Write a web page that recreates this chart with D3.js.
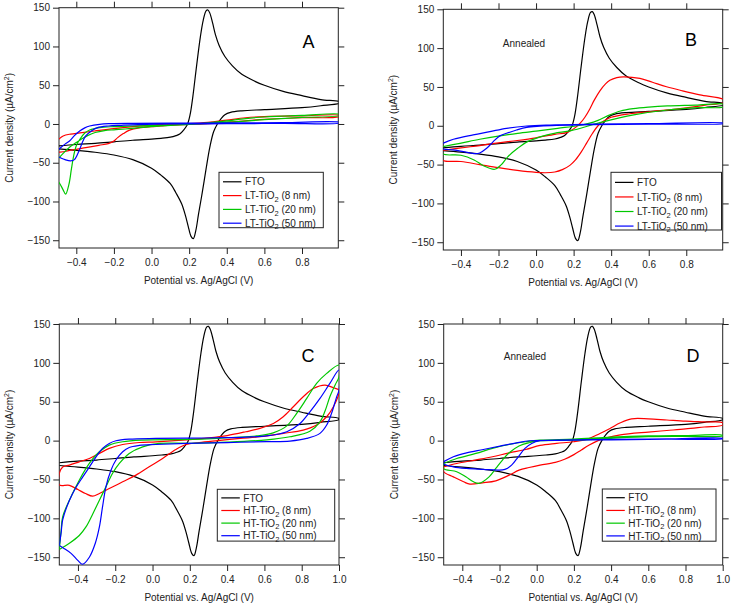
<!DOCTYPE html>
<html><head><meta charset="utf-8">
<script src="https://cdn.jsdelivr.net/npm/d3@7"></script>
<style>
html,body{margin:0;padding:0;background:#fff;}
svg{display:block;font-family:"Liberation Sans",Arial,sans-serif;}
</style></head>
<body>
<svg id="chart" width="731" height="603"></svg>
<script>
// ---------------- DATA (potential V vs Ag/AgCl, current density µA/cm²) ----------------
// Bare FTO cyclic voltammogram (same in all four panels): anodic sweep then cathodic sweep
const fto = [
 [-0.5,-28.5],[-0.4,-26.5],[-0.3,-25],[-0.2,-23],[-0.1,-21],[0,-19.5],[0.05,-18.5],[0.1,-17],[0.13,-15],[0.15,-13],
 [0.17,-8],[0.19,-1],[0.205,12],[0.22,36],[0.24,76],[0.26,113],[0.275,134],[0.29,146],[0.3,147],[0.31,143],[0.325,130],
 [0.34,115],[0.36,101],[0.39,87],[0.43,75],[0.48,64],[0.55,55],[0.6,50],[0.7,42],[0.8,36.5],[0.9,31.5],[1.0,28.5],
 [1.0,27],[0.9,23.5],[0.8,21],[0.6,18.5],[0.48,17],[0.42,15],[0.39,12],[0.37,7],[0.35,0],[0.33,-10],[0.31,-30],
 [0.29,-58],[0.27,-88],[0.25,-116],[0.235,-138],[0.222,-148],[0.21,-145],[0.195,-132],[0.18,-118],[0.16,-103],
 [0.13,-89],[0.1,-77],[0.05,-66],[0,-57],[-0.1,-46],[-0.2,-40],[-0.3,-36.5],[-0.4,-34],[-0.5,-32]
];
// Panel A: LT-TiO2 (as deposited)
const A_8nm = [
 [-0.5,-21],[-0.47,-15.5],[-0.43,-13],[-0.38,-11.5],[-0.3,-9],[-0.2,-6],[-0.1,-3.5],[0,-1.5],[0.1,0],[0.2,0.5],[0.3,2],
 [0.4,5],[0.5,8],[0.6,9.5],[0.8,10.5],[1.0,11],
 [1.0,9.5],[0.8,8],[0.6,6],[0.5,4],[0.4,2],[0.3,0.5],[0.2,-0.5],[0.1,-1.5],[0.05,-2.6],[0,-3.4],[-0.06,-4.7],
 [-0.12,-8.2],[-0.15,-12.4],[-0.18,-17.6],[-0.2,-22],[-0.23,-25.3],[-0.28,-27.5],[-0.35,-30.5],[-0.42,-33.5],[-0.5,-35.5],[-0.5,-21]
];
const A_20nm = [
 [-0.5,-46],[-0.47,-38],[-0.436,-30],[-0.4,-24],[-0.37,-19],[-0.34,-15],[-0.3,-11],[-0.25,-8.5],[-0.2,-7.5],[-0.14,-6.5],
 [-0.05,-4.5],[0.05,-2.5],[0.2,-0.5],[0.3,1.5],[0.4,4],[0.5,7],[0.6,9],[0.8,11],[1.0,12.5],
 [1.0,11],[0.8,8.5],[0.6,5.5],[0.4,2],[0.2,-0.5],[0,-2],[-0.1,-2.6],[-0.2,-3.4],[-0.276,-4.7],[-0.329,-7.7],[-0.356,-12],
 [-0.382,-20],[-0.4,-28],[-0.414,-41],[-0.426,-58],[-0.439,-77.7],[-0.457,-90.5],[-0.47,-85],[-0.485,-78],[-0.5,-72],[-0.5,-46]
];
const A_50nm = [
 [-0.5,-34],[-0.49,-32],[-0.46,-26],[-0.436,-22],[-0.41,-15],[-0.382,-9],[-0.355,-5],[-0.329,-2.6],[-0.276,-0.4],
 [-0.22,0.4],[-0.1,0.8],[0.1,1],[0.4,1.3],[0.7,1.8],[1.0,2.2],
 [1.0,1.3],[0.7,0.8],[0.4,0.3],[0.1,0],[-0.07,-0.9],[-0.16,-1.7],[-0.23,-2.6],[-0.287,-4.7],[-0.32,-9],[-0.35,-15.5],
 [-0.368,-24],[-0.386,-35],[-0.41,-46],[-0.43,-47.6],[-0.46,-46],[-0.49,-43],[-0.5,-42],[-0.5,-34]
];
// Panel B: LT-TiO2 annealed
const B_8nm = [
 [-0.5,-32],[-0.4,-28.5],[-0.3,-25.5],[-0.2,-22],[-0.1,-19],[0,-15.5],[0.1,-11],[0.163,-8.8],[0.2,-4],[0.234,3],
 [0.26,11],[0.287,22],[0.31,33],[0.34,45],[0.37,54],[0.393,58.5],[0.43,62],[0.464,63],[0.553,61],[0.62,56],[0.695,50.3],
 [0.78,45],[0.873,39.7],[1.0,33.5],
 [1.0,30],[0.9,26.5],[0.8,23],[0.6,18],[0.5,15.5],[0.4,11],[0.36,6],[0.33,0],[0.3,-10],[0.27,-22],[0.24,-34],[0.21,-44],
 [0.18,-51],[0.14,-56.5],[0.1,-59.5],[0.05,-60.5],[0,-60],[-0.1,-57.5],[-0.2,-54],[-0.3,-50],[-0.4,-46],[-0.5,-44],[-0.5,-32]
];
const B_20nm = [
 [-0.5,-27],[-0.405,-22.6],[-0.3,-17.4],[-0.193,-13],[-0.098,-9.7],[0.021,-6.3],[0.115,-3.3],[0.222,0],[0.28,3],[0.33,7],
 [0.393,14],[0.45,19],[0.517,22],[0.6,24],[0.7,25.5],[0.85,26.5],[1.0,27.7],
 [1.0,24.5],[0.87,23.3],[0.7,20.3],[0.52,14],[0.34,4],[0.186,-6.3],[0.097,-9.7],[0.026,-14],[-0.045,-20.4],[-0.098,-29],
 [-0.151,-40],[-0.186,-50.4],[-0.22,-56],[-0.28,-51.5],[-0.33,-44],[-0.4,-38],[-0.5,-36],[-0.5,-27]
];
const B_50nm = [
 [-0.5,-23],[-0.44,-17.4],[-0.335,-11.8],[-0.246,-7.6],[-0.157,-3.3],[-0.05,-0.3],[0.074,1],[0.3,2],[0.6,2.8],[1.0,3.5],
 [1.0,3],[0.6,2.2],[0.3,1.5],[0.11,0.5],[0.021,-0.5],[-0.05,-2],[-0.104,-5.4],[-0.157,-9.7],[-0.193,-13],[-0.228,-20.4],
 [-0.263,-29],[-0.3,-35],[-0.32,-36],[-0.36,-34.5],[-0.44,-31],[-0.5,-29],[-0.5,-23]
];
// Panel C: HT-TiO2 (as deposited)
const C_8nm = [
 [-0.5,-42],[-0.482,-34],[-0.446,-31.5],[-0.393,-27.3],[-0.339,-23],[-0.285,-16.5],[-0.232,-10],[-0.16,-5],[-0.071,-2.4],
 [0.018,-1.5],[0.18,1],[0.3,3.5],[0.4,6.5],[0.5,11.4],[0.576,15.7],[0.648,22],[0.701,30.7],[0.755,43.5],[0.808,56.4],
 [0.862,67],[0.925,71.5],[0.97,68],[1.0,65],
 [1.0,61],[0.97,43.5],[0.934,30.7],[0.88,20],[0.808,13.5],[0.701,9.3],[0.576,5],[0.469,2.8],[0.35,0],[0.25,-2.5],
 [0.18,-5],[0.125,-11.4],[0.054,-23],[-0.018,-33.7],[-0.089,-44.4],[-0.16,-53],[-0.232,-61.6],[-0.285,-68],[-0.321,-71.5],
 [-0.36,-68],[-0.4,-63],[-0.446,-57.5],[-0.5,-57],[-0.5,-42]
];
const C_20nm = [
 [-0.5,-140],[-0.49,-115],[-0.482,-98],[-0.446,-76.6],[-0.393,-51],[-0.339,-29.4],[-0.285,-14.4],[-0.232,-5.8],[-0.16,-1.5],
 [-0.053,0.6],[0.18,1.5],[0.35,3],[0.5,5],[0.558,6],[0.647,10],[0.72,19],[0.773,35],[0.827,54.3],[0.88,73.6],
 [0.934,86.5],[1.0,97.2],
 [1.0,82],[0.98,72],[0.951,56.4],[0.925,38],[0.898,24],[0.844,12],[0.737,5],[0.612,1],[0.4,-2],[0.2,-3.5],[0.036,-3.6],
 [-0.053,-8],[-0.125,-16.5],[-0.178,-29.4],[-0.214,-42],[-0.25,-59.5],[-0.285,-76.6],[-0.32,-94],[-0.357,-111],
 [-0.393,-122],[-0.446,-132],[-0.5,-140]
];
const C_50nm = [
 [-0.5,-135],[-0.49,-118],[-0.482,-102],[-0.446,-77],[-0.41,-60],[-0.375,-47],[-0.339,-34],[-0.303,-21],[-0.268,-10],
 [-0.232,-3.6],[-0.196,-0.2],[-0.125,1.9],[0.018,2.8],[0.2,3.2],[0.4,3.8],[0.5,4.5],[0.612,6],[0.72,11.4],[0.791,22],
 [0.844,37],[0.898,54.3],[0.951,73.6],[1.0,90.8],
 [1.0,65],[0.987,56],[0.96,35],[0.934,20],[0.898,9.3],[0.827,2.8],[0.737,-0.6],[0.612,-1.3],[0.4,-2.5],[0.18,-3.6],
 [0.018,-5],[-0.071,-6.2],[-0.125,-8.8],[-0.16,-14.4],[-0.196,-25],[-0.223,-38],[-0.25,-59.5],[-0.268,-85],[-0.285,-111],
 [-0.307,-132],[-0.339,-150],[-0.375,-159],[-0.401,-154],[-0.437,-145],[-0.473,-139],[-0.5,-135]
];
// Panel D: HT-TiO2 annealed
const D_8nm = [
 [-0.5,-33.7],[-0.43,-29.4],[-0.33,-25],[-0.238,-20.8],[-0.148,-15.7],[-0.059,-11.4],[0.018,-6.2],[0.107,-3.6],
 [0.197,-1.5],[0.268,1.5],[0.34,9.2],[0.394,15.7],[0.45,23],[0.51,28],[0.6,28],[0.7,26.5],[0.8,25],[0.9,24],[1.0,23],
 [1.0,20],[0.9,17.5],[0.8,15],[0.7,13],[0.6,11],[0.45,7.5],[0.38,4],[0.33,0],[0.28,-6],[0.24,-12],[0.2,-18],[0.15,-24],
 [0.1,-28],[0.018,-31.5],[-0.041,-34.6],[-0.095,-38],[-0.148,-44.4],[-0.22,-51.7],[-0.292,-54.3],[-0.359,-56],
 [-0.393,-53],[-0.448,-46.6],[-0.5,-40],[-0.5,-33.7]
];
const D_20nm = [
 [-0.5,-29.4],[-0.43,-23],[-0.327,-16.5],[-0.238,-10],[-0.148,-5],[-0.059,-1.5],[0.018,0.6],[0.2,2],[0.4,4.5],[0.6,6],
 [0.8,6.5],[1.0,7],
 [1.0,6],[0.8,5.5],[0.6,5],[0.4,3],[0.2,0.5],[0.018,-0.2],[-0.041,-2.8],[-0.095,-7],[-0.148,-15.7],[-0.184,-25],
 [-0.22,-35.8],[-0.256,-46.6],[-0.31,-55],[-0.34,-53],[-0.381,-46.6],[-0.43,-40],[-0.5,-36],[-0.5,-29.4]
];
const D_50nm = [
 [-0.5,-27],[-0.448,-20.8],[-0.377,-15.7],[-0.287,-11.4],[-0.197,-7],[-0.108,-2.8],[-0.036,-0.2],[0.107,0.6],[0.4,1.5],
 [0.7,2.2],[1.0,3],
 [1.0,2.5],[0.7,1.8],[0.4,1],[0.107,0.4],[0.018,-0.2],[-0.027,-3.6],[-0.063,-10],[-0.099,-20.8],[-0.135,-31.5],
 [-0.171,-37],[-0.206,-38],[-0.287,-37],[-0.377,-35.8],[-0.448,-33.7],[-0.5,-30],[-0.5,-27]
];
const yTicks = [-150,-100,-50,0,50,100,150];
const xTicksAB = [-0.4,-0.2,0.0,0.2,0.4,0.6,0.8];
const xTicksCD = [-0.4,-0.2,0.0,0.2,0.4,0.6,0.8,1.0];
const legendLT = ["FTO","LT-TiO|2| (8 nm)","LT-TiO|2| (20 nm)","LT-TiO|2| (50 nm)"];
const legendHT = ["FTO","HT-TiO|2| (8 nm)","HT-TiO|2| (20 nm)","HT-TiO|2| (50 nm)"];

// ---------------- LAYOUT ----------------
const colors = ["#000000","#ff0000","#00c800","#0000ff"];
const panels = [
 {id:"A", px:[59,338.3], py:[7.7,248], xd:[-0.492,0.993], xt:xTicksAB, data:[fto,A_8nm,A_20nm,A_50nm], leg:legendLT,
  lb:[219,172.3,104.3,55.4], letter:[308.5,41.5], ann:null},
 {id:"B", px:[443.3,722.7], py:[9.3,250], xd:[-0.494,0.994], xt:xTicksAB, data:[fto,B_8nm,B_20nm,B_50nm], leg:legendLT,
  lb:[611,172.3,110.5,57.7], letter:[691,39.5], ann:[524,43.3]},
 {id:"C", px:[59.3,339], py:[324,565], xd:[-0.5,1.0], xt:xTicksCD, data:[fto,C_8nm,C_20nm,C_50nm], leg:legendHT,
  lb:[217.3,489.3,117.4,51.8], letter:[308,355], ann:null},
 {id:"D", px:[443.7,722.7], py:[324,565], xd:[-0.5,1.0], xt:xTicksCD, data:[fto,D_8nm,D_20nm,D_50nm], leg:legendHT,
  lb:[602.3,489,113.7,52.2], letter:[693,355], ann:[525,356.7]}
];

const svg = d3.select("#chart");
const fmtX = d3.format(".1f");

panels.forEach((p,pi)=>{
  const x = d3.scaleLinear().domain(p.xd).range(p.px);
  const y = d3.scaleLinear().domain([-160,150]).range([p.py[1],p.py[0]]);
  const g = svg.append("g");
  const clipId = "clip"+p.id;
  svg.append("defs").append("clipPath").attr("id",clipId).append("rect")
    .attr("x",p.px[0]).attr("y",p.py[0]).attr("width",p.px[1]-p.px[0]).attr("height",p.py[1]-p.py[0]);

  // axes
  const ax = (a)=>a.tickSizeOuter(0);
  g.append("g").attr("transform",`translate(${p.px[0]},0)`)
    .call(ax(d3.axisLeft(y).tickValues(yTicks).tickSize(6).tickPadding(3).tickFormat(d3.format("d"))));
  g.append("g").attr("transform",`translate(0,${p.py[1]})`)
    .call(ax(d3.axisBottom(x).tickValues(p.xt).tickSize(6).tickPadding(5).tickFormat(fmtX)));
  g.append("g").attr("transform",`translate(${p.px[1]},0)`)
    .call(ax(d3.axisRight(y).tickValues(yTicks).tickSize(6).tickFormat("")));
  g.append("g").attr("transform",`translate(0,${p.py[0]})`)
    .call(ax(d3.axisTop(x).tickValues(p.xt).tickSize(6).tickFormat("")));
  g.selectAll(".domain").remove();
  g.selectAll(".tick line").attr("stroke","#222").attr("stroke-width",1);
  g.selectAll(".tick text").attr("fill","#222").style("font-size","10px")
    .style("font-family","'Liberation Sans',Arial,sans-serif");
  g.append("rect").attr("x",p.px[0]).attr("y",p.py[0]).attr("width",p.px[1]-p.px[0]).attr("height",p.py[1]-p.py[0])
    .attr("fill","none").attr("stroke","#222").attr("stroke-width",1);

  // curves
  const line = d3.line().x(d=>x(d[0])).y(d=>y(d[1])).curve(d3.curveCatmullRom.alpha(0.5));
  const cg = g.append("g").attr("clip-path",`url(#${clipId})`);
  p.data.forEach((s,i)=>{
    cg.append("path").datum(s).attr("d",line).attr("fill","none")
      .attr("stroke",colors[i]).attr("stroke-width",1.2).attr("stroke-linejoin","round");
  });

  // axis titles
  const cx = (p.px[0]+p.px[1])/2, cy = (p.py[0]+p.py[1])/2;
  g.append("text").attr("x",cx).attr("y",p.py[1]+35.5).attr("text-anchor","middle")
    .style("font-size","10px").attr("fill","#222").text("Potential vs. Ag/AgCl (V)");
  const yt = g.append("text").attr("transform",`translate(${p.px[0]-46},${cy}) rotate(-90)`)
    .attr("text-anchor","middle").style("font-size","10px").attr("fill","#222");
  yt.append("tspan").text("Current density (µA/cm");
  yt.append("tspan").attr("dy",-4).style("font-size","7px").text("2");
  yt.append("tspan").attr("dy",4).text(")");

  // panel letter & annotation
  g.append("text").attr("x",p.letter[0]).attr("y",p.letter[1]+6.5).attr("text-anchor","middle")
    .style("font-size","18px").attr("fill","#000").text(p.id);
  if(p.ann) g.append("text").attr("x",p.ann[0]).attr("y",p.ann[1]+3.5).attr("text-anchor","middle")
    .style("font-size","10px").attr("fill","#222").text("Annealed");

  // legend
  const [lx,ly,lw,lh] = p.lb;
  const lg = g.append("g");
  lg.append("rect").attr("x",lx).attr("y",ly).attr("width",lw).attr("height",lh)
    .attr("fill","#fff").attr("stroke","#222").attr("stroke-width",1);
  const step = (lh-14)/3;
  p.leg.forEach((lab,i)=>{
    const yy = ly+8.5+i*step+ (lh-51.4)/4;
    lg.append("line").attr("x1",lx+4).attr("x2",lx+22.5).attr("y1",yy).attr("y2",yy)
      .attr("stroke",colors[i]).attr("stroke-width",1.2);
    const t = lg.append("text").attr("x",lx+26).attr("y",yy+3.6).style("font-size","10px").attr("fill","#222");
    lab.split("|").forEach((part,k)=>{
      if(k===1) t.append("tspan").attr("dy",2.5).style("font-size","7.5px").text(part);
      else if(k===2) t.append("tspan").attr("dy",-2.5).text(part);
      else t.append("tspan").text(part);
    });
  });
});
</script>
</body></html>
